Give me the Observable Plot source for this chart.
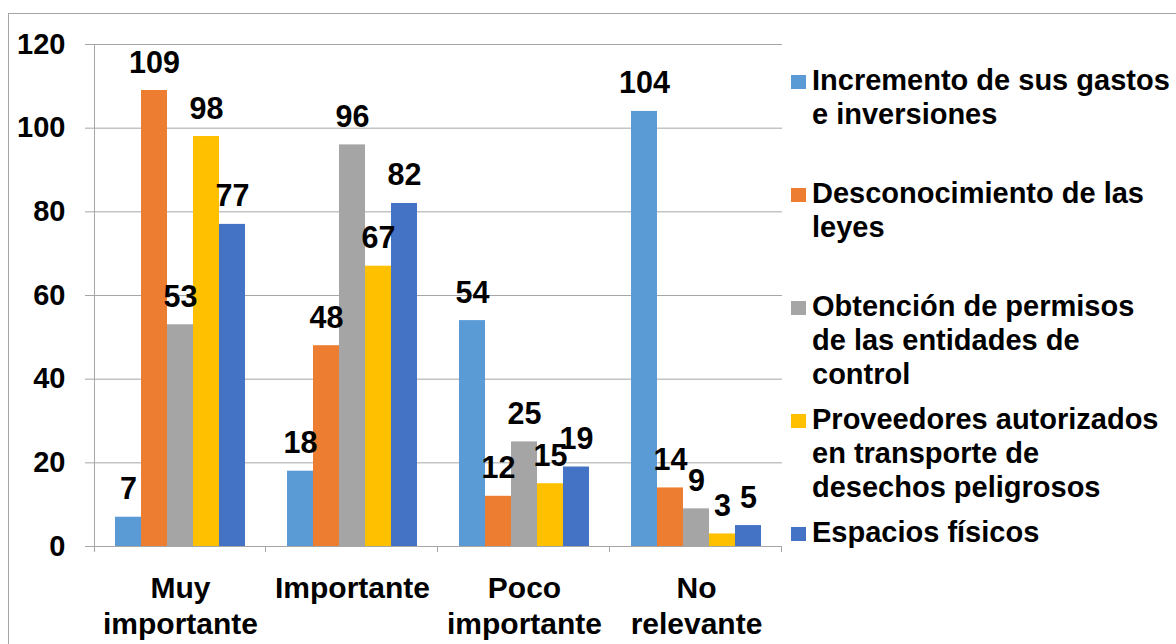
<!DOCTYPE html>
<html>
<head>
<meta charset="utf-8">
<script src="https://cdn.jsdelivr.net/npm/d3@7"></script>
<script src="https://cdn.jsdelivr.net/npm/@observablehq/plot@0.6"></script>
<style>
  html, body { margin: 0; padding: 0; background: #fff; overflow: hidden; }
  #wrap { position: relative; width: 1176px; height: 644px; overflow: hidden; font-family: "Liberation Sans", Arial, sans-serif; }
  #border { position: absolute; left: 8px; top: 13px; width: 1200px; height: 700px; border: 1px solid #a6a6a6; }
  #chart { position: absolute; left: 0; top: 0; }
  #legend { position: absolute; left: 0; top: 0; }
  .item { position: absolute; left: 791px; }
  .sw { position: absolute; left: 0; top: 12px; width: 15px; height: 14px; }
  .lt { position: absolute; left: 21px; top: 0; white-space: nowrap; font-size: 29px; font-weight: bold; line-height: 34px; color: #000; }
</style>
</head>
<body>
<div id="wrap">
  <div id="border"></div>
  <div id="chart"></div>
  <div id="legend"></div>
</div>
<script>
// ---- data ----
const groups = ["Muy importante", "Importante", "Poco importante", "No relevante"];
const groupLabels = ["Muy\nimportante", "Importante", "Poco\nimportante", "No\nrelevante"];
const series = [
  "Incremento de sus gastos e inversiones",
  "Desconocimiento de las leyes",
  "Obtención de permisos de las entidades de control",
  "Proveedores autorizados en transporte de desechos peligrosos",
  "Espacios físicos"
];
const legendLines = [
  ["Incremento de sus gastos", "e inversiones"],
  ["Desconocimiento de las", "leyes"],
  ["Obtención de permisos", "de las entidades de", "control"],
  ["Proveedores autorizados", "en transporte de", "desechos peligrosos"],
  ["Espacios físicos"]
];
const colors = ["#5B9BD5", "#ED7D31", "#A5A5A5", "#FFC000", "#4472C4"];
// values per series, in group order
const incremento = [7, 18, 54, 104];
const desconocimiento = [109, 48, 12, 14];
const obtencion = [53, 96, 25, 9];
const proveedores = [98, 67, 15, 3];
const espacios = [77, 82, 19, 5];
const yTicks = [0, 20, 40, 60, 80, 100, 120];

const seriesValues = [incremento, desconocimiento, obtencion, proveedores, espacios];
const rows = [];
groups.forEach((g, gi) => series.forEach((s, si) => rows.push({group: g, series: s, value: seriesValues[si][gi]})));

const gridColor = "#a6a6a6";
const font = "'Liberation Sans', Arial, sans-serif";

const plot = Plot.plot({
  width: 790,
  height: 644,
  marginLeft: 93,
  marginRight: 8,
  marginTop: 44,
  marginBottom: 98,
  style: {fontFamily: font, fontSize: "29px", fontWeight: "bold", color: "#000", background: "transparent"},
  fx: {domain: groups, padding: 0, axis: null, label: null},
  x: {domain: series, paddingInner: 0, paddingOuter: 0.78, axis: null},
  y: {domain: [0, 120], axis: null},
  color: {domain: series, range: colors},
  marks: [
    Plot.ruleY(yTicks, {stroke: gridColor, strokeWidth: 1}),
    Plot.axisY({ticks: yTicks, tickSize: 9, tickPadding: 20, stroke: gridColor, fill: "#000", fontSize: 29, fontWeight: "bold", label: null}),
    Plot.barY(rows, {fx: "group", x: "series", y: "value", fill: "series"}),
    Plot.text(rows, {fx: "group", x: "series", y: "value", text: "value", lineAnchor: "bottom", dy: -18, fontSize: 30.5, fontWeight: "bold", fill: "#000"}),
    Plot.text(groups, {fx: d => d, text: (d, i) => groupLabels[i], frameAnchor: "bottom", lineAnchor: "top", dy: 27, lineHeight: 1.17, fontSize: 30, fontWeight: "bold", fill: "#000"})
  ]
});
document.getElementById("chart").appendChild(plot);

// Excel-style axis line and category boundary tick marks
(function () {
  const svg = d3.select(plot);
  const ys = plot.scale("y");
  const y0 = ys.apply(0), yTop = ys.apply(120);
  let edges = [];
  const fxs = plot.scale("fx");
  if (fxs && fxs.apply) {
    const bw = fxs.bandwidth;
    edges = groups.map(g => fxs.apply(g));
    edges.push(edges[edges.length - 1] + bw);
  } else {
    const w = (790 - 93 - 8) / groups.length;
    edges = d3.range(groups.length + 1).map(i => 93 + i * w);
  }
  const g = svg.append("g").attr("stroke", gridColor).attr("stroke-width", 1);
  g.append("line").attr("x1", edges[0] + 0.5).attr("x2", edges[0] + 0.5).attr("y1", yTop).attr("y2", y0 + 6);
  edges.slice(1).forEach(e => g.append("line").attr("x1", e - 0.5).attr("x2", e - 0.5).attr("y1", y0).attr("y2", y0 + 6));
})();

// legend
const legend = document.getElementById("legend");
series.forEach((s, i) => {
  const item = document.createElement("div");
  item.className = "item";
  item.style.top = (63 + i * 113) + "px";
  const sw = document.createElement("div");
  sw.className = "sw";
  sw.style.background = colors[i];
  const lt = document.createElement("div");
  lt.className = "lt";
  lt.innerHTML = legendLines[i].join("<br>");
  item.appendChild(sw);
  item.appendChild(lt);
  legend.appendChild(item);
});
</script>
</body>
</html>
